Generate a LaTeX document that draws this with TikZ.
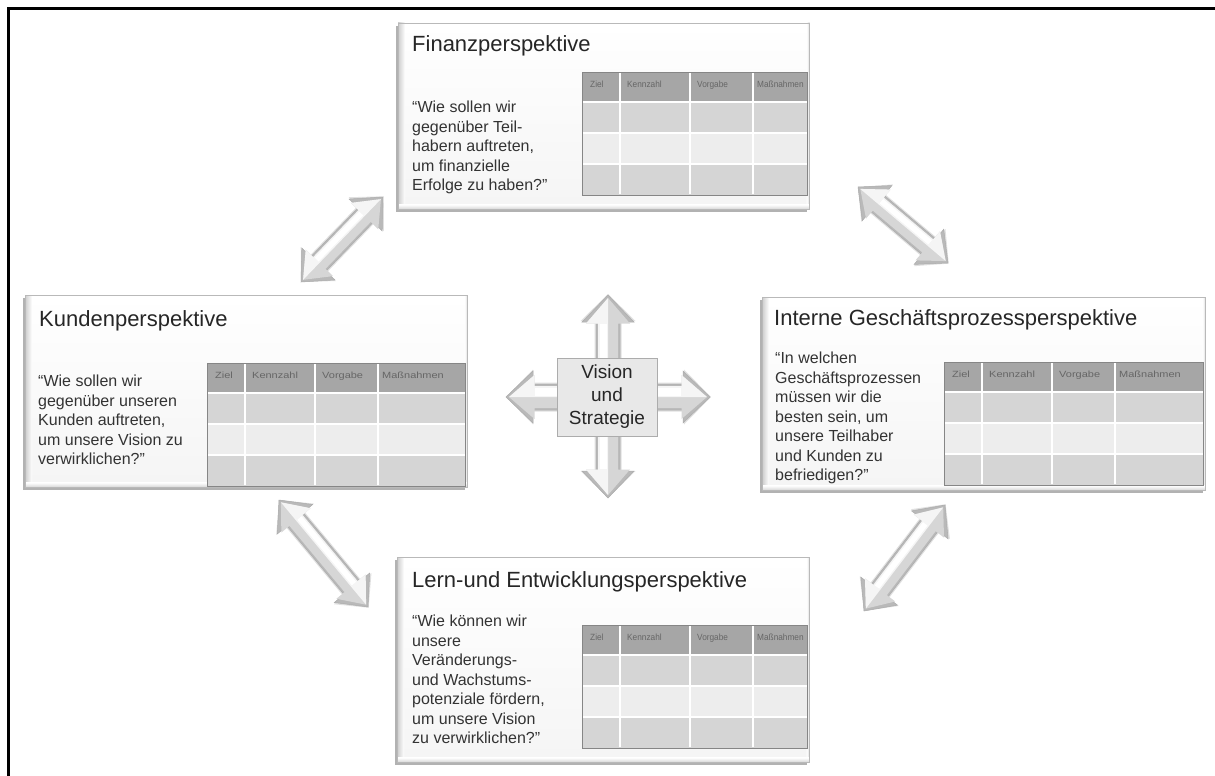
\documentclass[tikz,border=0pt]{standalone}
\usepackage{fontspec}
\setmainfont{Liberation Sans}
\newfontfamily\hdnarrow[FakeStretch=0.92]{Liberation Sans}
\newfontfamily\hdwide[FakeStretch=1.22]{Liberation Sans}
\usetikzlibrary{calc,shadows}

\tikzset{
  persp/.style={draw=gray!55, line width=0.6pt, top color=white, bottom color=gray!8,
    drop shadow={shadow xshift=-2pt, shadow yshift=-3pt, fill=black, opacity=0.3}},
  ptitle/.style={anchor=base west, inner sep=0pt, font=\fontsize{22}{26}\selectfont, text=black!85},
  pquest/.style={anchor=north west, inner sep=0pt, align=left, font=\fontsize{16}{19.5}\selectfont, text=black!80},
  thead/.style={anchor=base west, inner sep=0pt, text=black!60},
  visionbox/.style={draw=gray!65, fill=gray!18, line width=0.6pt, minimum width=100pt, minimum height=78pt,
    align=center, font=\fontsize{19}{23}\selectfont, text=black!85, inner sep=0pt},
  framestroke/.style={line width=2.5pt, draw=black},
  arrbody/.style={fill=gray!55, draw=gray!65, line width=0.5pt, line join=miter},
  arrdark/.style={fill=gray!32},
  arrlight/.style={fill=gray!8},
}

% outline of a double block arrow lying on the local x axis, from #1 to #2
% #3 shaft width, #4 head width, #5 head length
\newcommand{\arrshape}[5]{(#1,0) -- ({(#1)+(#5)},{(#4)/2}) -- ({(#1)+(#5)},{(#3)/2}) -- ({(#2)-(#5)},{(#3)/2})
  -- ({(#2)-(#5)},{(#4)/2}) -- (#2,0) -- ({(#2)-(#5)},{-(#4)/2}) -- ({(#2)-(#5)},{-(#3)/2})
  -- ({(#1)+(#5)},{-(#3)/2}) -- ({(#1)+(#5)},{-(#4)/2}) -- cycle}
% the half of the same outline that lies left of the direction of travel
\newcommand{\arrhalf}[5]{(#1,0) -- ({(#1)+(#5)},{-(#4)/2}) -- ({(#1)+(#5)},{-(#3)/2})
  -- ({(#2)-(#5)},{-(#3)/2}) -- ({(#2)-(#5)},{-(#4)/2}) -- (#2,0) -- cycle}

% grey double block arrow between two named coordinates
% #1 from, #2 to, #3 shaft width, #4 head width, #5 head length
\newcommand{\dblarrow}[5]{%
  \path let \p1=($(#2)-(#1)$) in \pgfextra{%
    \pgfmathparse{atan2(\y1,\x1)}\xdef\arrang{\pgfmathresult}%
    \pgfmathparse{veclen(\x1,\y1)}\xdef\arrlen{\pgfmathresult}};
  \begin{scope}[shift={(#1)}, rotate=\arrang]
    \fill[black, opacity=0.12] \arrshape{0}{\arrlen+1}{#3+3}{#4+3}{#5};
    \filldraw[arrbody] \arrshape{0}{\arrlen}{#3}{#4}{#5};
    \fill[arrdark] \arrshape{3}{\arrlen-3}{#3-4}{#4-8}{#5-1.5};
    \fill[arrlight] \arrhalf{3}{\arrlen-3}{#3-4}{#4-8}{#5-1.5};
    \fill[white] ({(#5)+2},{-1.5}) rectangle ({\arrlen-(#5)-2},{-(#3)/2+3.5});
  \end{scope}
}

% perspective box with bevelled edges
\newcommand{\perspbox}[5]{%
  \node[persp, anchor=north west, inner sep=0pt, minimum width={#4-#2}, minimum height={#5-#3}] (#1) at (#2,#3) {};
  \shade[left color=gray!40, right color=white] (#1.north west) rectangle ($(#1.south west)+(7,0)$);
  \shade[left color=white, right color=gray!30] ($(#1.north east)+(-3,0)$) rectangle (#1.south east);
  \shade[top color=white, bottom color=gray!35] ($(#1.south west)+(0,-5)$) rectangle (#1.south east);
  \draw[gray!55, line width=0.6pt] (#1.north west) rectangle (#1.south east);
}

% target table: #1 name prefix, #2 left x, #3 top y, #4 right x, #5 header font family
\newcommand{\bsctable}[5]{%
  \fill[gray!70] (#2,#3) rectangle (#4,{#3+30});
  \fill[gray!33] (#2,{#3+30}) rectangle (#4,{#3+61});
  \fill[gray!14] (#2,{#3+61}) rectangle (#4,{#3+92});
  \fill[gray!33] (#2,{#3+92}) rectangle (#4,{#3+123});
  \foreach \dx in {38,108,171} \draw[white, line width=1.6pt] ({#2+\dx},{#3+0.8}) -- ({#2+\dx},{#3+122.2});
  \foreach \dy in {30,61,92} \draw[white, line width=1.1pt] ({#2+0.5},{#3+\dy}) -- ({#4-0.5},{#3+\dy});
  \draw[gray!95, line width=0.7pt] (#2,#3) rectangle (#4,{#3+123});
  \begin{scope}[every node/.append style={font=#5\fontsize{9}{10}\selectfont}]
    \node[thead] (#1-ziel) at ({#2+8},{#3+15}) {Ziel};
    \node[thead] (#1-kz) at ({#2+45},{#3+15}) {Kennzahl};
    \node[thead] (#1-vg) at ({#2+115},{#3+15}) {Vorgabe};
    \node[thead] (#1-mn) at ({#2+175},{#3+15}) {Maßnahmen};
  \end{scope}
}

\begin{document}
\begin{tikzpicture}[x=1pt, y=-1pt]
\useasboundingbox (0,0) rectangle (1215,776);
\fill[white] (0,0) rectangle (1215,776);
\draw[framestroke] (8.5,800) -- (8.5,8.5) -- (1240,8.5);

% the four perspectives
\perspbox{fin}{398}{23}{809}{209}
\perspbox{kun}{25}{295}{467}{487}
\perspbox{int}{762}{297}{1205}{490}
\perspbox{lern}{397}{557}{809}{762}

\node[ptitle] (fin-t) at (412,52) {Finanzperspektive};
\node[ptitle] (kun-t) at (39,326) {Kundenperspektive};
\node[ptitle] (int-t) at (774,325) {Interne Geschäftsprozessperspektive};
\node[ptitle] (lern-t) at (412,587) {Lern-und Entwicklungsperspektive};

\node[pquest] (fin-q) at (412,101) {“Wie sollen wir\\gegenüber Teil-\\habern auftreten,\\um finanzielle\\Erfolge zu haben?”};
\node[pquest] (kun-q) at (38,375) {“Wie sollen wir\\gegenüber unseren\\Kunden auftreten,\\um unsere Vision zu\\verwirklichen?”};
\node[pquest] (int-q) at (775,352) {“In welchen\\Geschäftsprozessen\\müssen wir die\\besten sein, um\\unsere Teilhaber\\und Kunden zu\\befriedigen?”};
\node[pquest] (lern-q) at (412,615) {“Wie können wir\\unsere\\Veränderungs-\\und Wachstums-\\potenziale fördern,\\um unsere Vision\\zu verwirklichen?”};

\bsctable{fintab}{582}{72}{807}{\hdnarrow}
\bsctable{kuntab}{207}{363}{465}{\hdwide}
\bsctable{inttab}{944}{362}{1203}{\hdwide}
\bsctable{lerntab}{582}{625}{807}{\hdnarrow}

% arrows between neighbouring perspectives
\coordinate (a1s) at (301,282);  \coordinate (a1e) at (383,197);
\coordinate (a2s) at (858,187);  \coordinate (a2e) at (948,263);
\coordinate (a3s) at (279,500);  \coordinate (a3e) at (368,607);
\coordinate (a4s) at (864,611);  \coordinate (a4e) at (945,505);
\dblarrow{a1s}{a1e}{21}{46}{25}
\dblarrow{a2s}{a2e}{21}{46}{25}
\dblarrow{a3s}{a3e}{21}{46}{25}
\dblarrow{a4s}{a4e}{21}{46}{25}

% central cross
\coordinate (cl) at (506,397);  \coordinate (cr) at (710,397);
\coordinate (ct) at (608,295);  \coordinate (cb) at (608,498);
\dblarrow{cl}{cr}{26}{52}{27}
\dblarrow{cb}{ct}{24}{52}{27}
\node[visionbox] (vis) at (607,397) {Vision\\und\\Strategie};
\end{tikzpicture}
\end{document}
